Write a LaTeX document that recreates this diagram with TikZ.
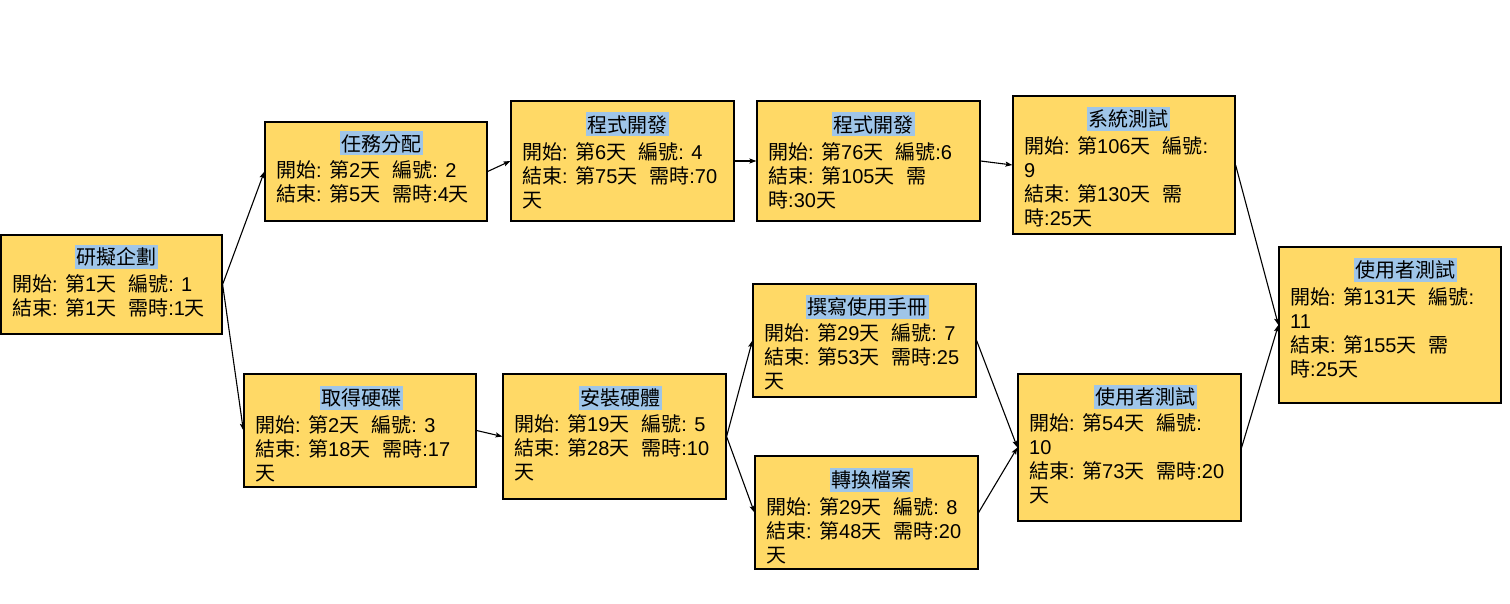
\documentclass[tikz,border=0pt]{standalone}
\usepackage{fontspec}
\setmainfont{Liberation Sans}
\newfontfamily\zhf{Noto Sans CJK TC}
\usetikzlibrary{arrows.meta}
\definecolor{boxfill}{HTML}{FFD966}
\definecolor{hlblue}{HTML}{9FC5E8}
% Chinese runs are set in the CJK family, the rest in Liberation Sans
\newcommand\zh[1]{{\zhf #1}}
\newcommand\st[1]{\rule{0pt}{20pt}\zh{開始}: \zh{第}#1\zh{天}\hspace{12pt}\zh{編號}:}
\newcommand\en[1]{\zh{結束}: \zh{第}#1\zh{天}\hspace{12pt}\zh{需}}
\tikzset{
  task/.style={draw=black, fill=boxfill, line width=1.2pt, rectangle, inner sep=0pt},
  ttl/.style={fill=hlblue, inner xsep=1.5pt, inner ysep=0pt, text height=19.6pt, text depth=4.4pt,
    font=\fontsize{20}{24}\selectfont},
  body/.style={anchor=north west, align=left, inner sep=0pt, font=\fontsize{20}{24}\selectfont},
  conn/.style={draw=black, line width=1.1pt, -{Stealth[length=7pt,width=5pt,inset=1.5pt]}},
}
\begin{document}
\begin{tikzpicture}[x=1pt,y=-1pt]
\fill[white] (0,0) rectangle (1510,604);
\useasboundingbox (0,0) rectangle (1510,604);

% task boxes
\node[task, minimum width=221pt, minimum height=99pt]  (A) at (111.5,284.5) {};
\node[task, minimum width=222pt, minimum height=99pt]  (B) at (376,171.5) {};
\node[task, minimum width=223pt, minimum height=120pt] (C) at (622.5,161) {};
\node[task, minimum width=223pt, minimum height=120pt] (D) at (868.5,161) {};
\node[task, minimum width=222pt, minimum height=138pt] (E) at (1124,165) {};
\node[task, minimum width=222pt, minimum height=156pt] (F) at (1390,325) {};
\node[task, minimum width=232pt, minimum height=113pt] (G) at (360,430.5) {};
\node[task, minimum width=223pt, minimum height=125pt] (H) at (614.5,436.5) {};
\node[task, minimum width=223pt, minimum height=113pt] (I) at (864.5,340.5) {};
\node[task, minimum width=223pt, minimum height=113pt] (J) at (866.5,512.5) {};
\node[task, minimum width=223pt, minimum height=147pt] (K) at (1129.5,447.5) {};

% titles
\node[ttl] (At) at (116,257)    {\zh{研擬企劃}};
\node[ttl] (Bt) at (381,143.5)  {\zh{任務分配}};
\node[ttl] (Ct) at (627.5,124.5){\zh{程式開發}};
\node[ttl] (Dt) at (873.5,124.5){\zh{程式開發}};
\node[ttl] (Et) at (1128.7,118.7){\zh{系統測試}};
\node[ttl] (Ft) at (1405.5,270) {\zh{使用者測試}};
\node[ttl] (Gt) at (361,398)    {\zh{取得硬碟}};
\node[ttl] (Ht) at (620,397.5)  {\zh{安裝硬體}};
\node[ttl] (It) at (867.5,306.7){\zh{撰寫使用手冊}};
\node[ttl] (Jt) at (871.7,480)  {\zh{轉換檔案}};
\node[ttl] (Kt) at (1145.5,396.7){\zh{使用者測試}};

% schedule details
\node[body] (Ab) at (12,271)      {\st{1} 1\\\en{1}\zh{時}:1\zh{天}};
\node[body] (Bb) at (276,157.5)   {\st{2} 2\\\en{5}\zh{時}:4\zh{天}};
\node[body] (Cb) at (522,139)     {\st{6} 4\\\en{75}\zh{時}:70\\\zh{天}};
\node[body] (Db) at (768,139)     {\st{76}6\\\en{105}\\\zh{時}:30\zh{天}};
\node[body] (Eb) at (1024,133)    {\st{106}\\9\\\en{130}\\\zh{時}:25\zh{天}};
\node[body] (Fb) at (1290,284)    {\st{131}\\11\\\en{155}\\\zh{時}:25\zh{天}};
\node[body] (Gb) at (255,412)     {\st{2} 3\\\en{18}\zh{時}:17\\\zh{天}};
\node[body] (Hb) at (514,411.5)   {\st{19} 5\\\en{28}\zh{時}:10\\\zh{天}};
\node[body] (Ib) at (764,320.7)   {\st{29} 7\\\en{53}\zh{時}:25\\\zh{天}};
\node[body] (Jb) at (766,494)     {\st{29} 8\\\en{48}\zh{時}:20\\\zh{天}};
\node[body] (Kb) at (1029,410.7)  {\st{54}\\10\\\en{73}\zh{時}:20\\\zh{天}};

% dependencies
\draw[conn] (A.east) -- (B.west);
\draw[conn] (A.east) -- (G.west);
\draw[conn] (B.east) -- (C.west);
\draw[conn] (C.east) -- (D.west);
\draw[conn] (D.east) -- (E.west);
\draw[conn] (E.east) -- (F.west);
\draw[conn] (G.east) -- (H.west);
\draw[conn] (H.east) -- (I.west);
\draw[conn] (H.east) -- (J.west);
\draw[conn] (I.east) -- (K.west);
\draw[conn] (J.east) -- (K.west);
\draw[conn] (K.east) -- (F.west);
\end{tikzpicture}
\end{document}
